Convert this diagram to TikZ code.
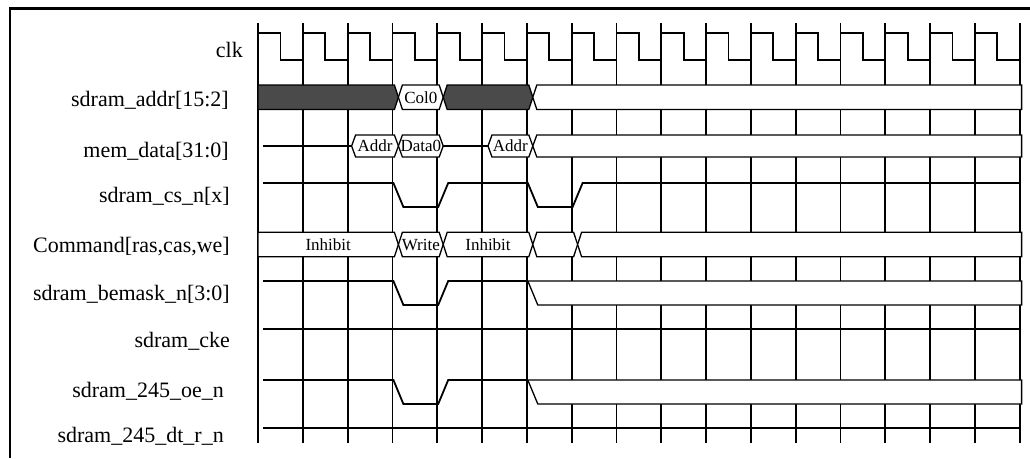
\documentclass[tikz,border=0pt]{standalone}
\usepackage{fontspec}
\setmainfont{Liberation Serif}
\usepackage{tikz}
\usepackage{xcolor}
\usetikzlibrary{calc}
\definecolor{cBus}{RGB}{74,74,74}
% x of the k-th clock edge
\newcommand{\gx}[1]{258+44.8*#1}
\newcommand{\sigfont}{\fontsize{22}{26}\selectfont}
\newcommand{\busfont}{\fontsize{17}{20}\selectfont}
% bus value: style, left point, right point, top, bottom
\newcommand{\hexbus}[5]{\draw[#1] ({#2},{(#4+#5)/2}) -- ({#2+4},#4) -- ({#3-4},#4) -- ({#3},{(#4+#5)/2}) -- ({#3-4},#5) -- ({#2+4},#5) -- cycle;}
\tikzset{
	gridln/.style={line width=1.8pt},
	sig/.style   ={line width=1.8pt},
	busw/.style  ={draw=black, line width=1.3pt, fill=white},
	busd/.style  ={draw=black, line width=1.3pt, fill=cBus},
	lbl/.style   ={anchor=base east, inner sep=0pt, font=\sigfont},
	blbl/.style  ={inner sep=0pt, font=\busfont},
}

\begin{document}
\begin{tikzpicture}[x=1pt, y=-1pt]
	\useasboundingbox (0,0) rectangle (1030,458);
	\draw[line width=2.6pt] (10,458) -- (10,8.7) -- (1030,8.7);
	% signal names
	\foreach \y/\r/\t [count=\i] in {57/243/clk, 106/229/{sdram\_addr[15:2]}, 157/229/{mem\_data[31:0]},
			202/230/{sdram\_cs\_n[x]}, 252/230/{Command[ras,cas,we]}, 300/230/{sdram\_bemask\_n[3:0]},
			347/230/{sdram\_cke}, 397/224/{sdram\_245\_oe\_n}, 442/224/{sdram\_245\_dt\_r\_n}}
		\node[lbl] (lbl\i) at (\r,\y) {\t};
	% clock grid
	\foreach \k in {0,...,17}
		\draw[gridln] ({\gx{\k}},23) -- ({\gx{\k}},443.3);
	\draw[sig] ({\gx{0}},33) \foreach \k in {0,...,16} { -- ({\gx{\k}+22.4},33) -- ({\gx{\k}+22.4},60) -- ({\gx{\k}+44.8},60) -- ({\gx{\k}+44.8},33) };
	% sdram_addr
	\draw[busd] ({\gx{0}},85) -- ({\gx{3}+2},85) -- ({\gx{3}+6},97.25) -- ({\gx{3}+2},109.5) -- ({\gx{0}},109.5) -- cycle;
	\hexbus{busw}{\gx{3}+6}{\gx{4}+6}{85}{109.5}
	\hexbus{busd}{\gx{4}+6}{\gx{6}+6}{85}{109.5}
	\draw[busw] ({\gx{6}+6},97.25) -- ({\gx{6}+10},85) -- ({\gx{17}+2},85) -- ({\gx{17}+2},109.5) -- ({\gx{6}+10},109.5) -- cycle;
	\node[blbl] (col0) at ({(\gx{3}+\gx{4}+12)/2},97.25) {Col0};
	% mem_data
	\draw[sig] (263,146) -- ({\gx{2}+4},146);
	\draw[sig] ({\gx{4}+6},146) -- ({\gx{5}+6},146);
	\hexbus{busw}{\gx{2}+4}{\gx{3}+6}{135}{157}
	\hexbus{busw}{\gx{3}+6}{\gx{4}+6}{135}{157}
	\hexbus{busw}{\gx{5}+6}{\gx{6}+6}{135}{157}
	\draw[busw] ({\gx{6}+6},146) -- ({\gx{6}+10},135) -- ({\gx{17}+2},135) -- ({\gx{17}+2},157) -- ({\gx{6}+10},157) -- cycle;
	\node[blbl] (addr1) at ({(\gx{2}+\gx{3}+10)/2},146) {Addr};
	\node[blbl] (data0) at ({(\gx{3}+\gx{4}+12)/2},146) {Data0};
	\node[blbl] (addr2) at ({(\gx{5}+\gx{6}+12)/2},146) {Addr};
	% sdram_cs_n
	\draw[sig] (263,183) -- ({\gx{3}+1},183) -- ({\gx{3}+11},207) -- ({\gx{4}+1},207) -- ({\gx{4}+11},183)
		-- ({\gx{6}+1},183) -- ({\gx{6}+11},207) -- ({\gx{7}+1},207) -- ({\gx{7}+11},183) -- ({\gx{17}},183);
	% command
	\draw[busw] ({\gx{0}},232.3) -- ({\gx{3}+2},232.3) -- ({\gx{3}+6},244.5) -- ({\gx{3}+2},256.7) -- ({\gx{0}},256.7) -- cycle;
	\hexbus{busw}{\gx{3}+6}{\gx{4}+6}{232.3}{256.7}
	\hexbus{busw}{\gx{4}+6}{\gx{6}+6}{232.3}{256.7}
	\hexbus{busw}{\gx{6}+6}{\gx{7}+6}{232.3}{256.7}
	\draw[busw] ({\gx{7}+6},244.5) -- ({\gx{7}+10},232.3) -- ({\gx{17}+2},232.3) -- ({\gx{17}+2},256.7) -- ({\gx{7}+10},256.7) -- cycle;
	\node[blbl] (inh1) at ({(\gx{0}+\gx{3}+6)/2},244.5) {Inhibit};
	\node[blbl] (wr) at ({(\gx{3}+\gx{4}+12)/2},244.5) {Write};
	\node[blbl] (inh2) at ({(\gx{4}+\gx{6}+12)/2},244.5) {Inhibit};
	% sdram_bemask_n
	\draw[sig] (263,281) -- ({\gx{3}+1},281) -- ({\gx{3}+11},305) -- ({\gx{4}+1},305) -- ({\gx{4}+11},281) -- ({\gx{6}+1},281);
	\draw[busw] ({\gx{6}+1},281) -- ({\gx{17}+2},281) -- ({\gx{17}+2},305) -- ({\gx{6}+11},305) -- cycle;
	% sdram_cke
	\draw[sig] (263,329.3) -- ({\gx{17}},329.3);
	% sdram_245_oe_n
	\draw[sig] (263,380) -- ({\gx{3}+1},380) -- ({\gx{3}+11},404) -- ({\gx{4}+1},404) -- ({\gx{4}+11},380) -- ({\gx{6}+1},380);
	\draw[busw] ({\gx{6}+1},380) -- ({\gx{17}+2},380) -- ({\gx{17}+2},404) -- ({\gx{6}+11},404) -- cycle;
	% sdram_245_dt_r_n
	\draw[sig] (263,428.3) -- ({\gx{17}},428.3);
\end{tikzpicture}
\end{document}
